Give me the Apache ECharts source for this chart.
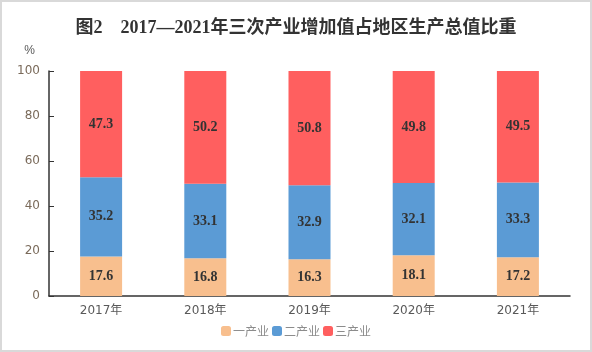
<!DOCTYPE html>
<html><head><meta charset="utf-8">
<script src="https://cdn.jsdelivr.net/npm/echarts@6/dist/echarts.min.js"></script>
<style>html,body{margin:0;padding:0;background:#fff}#c{width:592px;height:352px;box-sizing:border-box;border:2px solid #d9d9d9}</style>
</head><body><div id="c"></div>
<script>
const categories = ['2017年','2018年','2019年','2020年','2021年'];
const primary = [17.6, 16.8, 16.3, 18.1, 17.2];
const secondary = [35.2, 33.1, 32.9, 32.1, 33.3];
const tertiary = [47.3, 50.2, 50.8, 49.8, 49.5];
const seriesNames = ['一产业','二产业','三产业'];
const yTicks = [0,20,40,60,80,100];

const chart = echarts.init(document.getElementById('c'), null, {renderer:'canvas'});
const lbl = {show:true, position:'inside', color:'#333', fontFamily:'Liberation Serif, serif', fontWeight:'bold', fontSize:14};
const colors = ['#F8BF8E','#5B9BD5','#FF5F5F'];
const data = [primary, secondary, tertiary];
chart.setOption({
  animation:false,
  title:{text:'图2　2017—2021年三次产业增加值占地区生产总值比重', left:'center', top:12,
    textStyle:{fontSize:18, fontWeight:'bold', color:'#333', fontFamily:'Liberation Serif, Noto Sans CJK SC, serif'}},
  legend:{data:seriesNames, bottom:8, left:'center', itemWidth:10, itemHeight:10, itemGap:3,
    textStyle:{color:'#8c8c8c', fontSize:12, padding:[0,0,0,-3], fontFamily:'Noto Sans CJK SC'}},
  grid:{left:47, right:20, top:69, bottom:54},
  xAxis:{type:'category', data:categories,
    axisLine:{lineStyle:{color:'#333', width:1.5}},
    axisTick:{inside:true, length:5, lineStyle:{color:'#333'}},
    axisLabel:{color:'#595959', fontSize:12, margin:9, fontFamily:'DejaVu Sans, Noto Sans CJK SC'}},
  yAxis:{type:'value', min:0, max:100, interval:20, name:'%', nameLocation:'end', nameGap:14,
    nameTextStyle:{color:'#595959', fontSize:12, align:'right', padding:[0,14,0,0]},
    axisLine:{show:true, lineStyle:{color:'#333', width:1.5}},
    axisTick:{show:true, inside:true, length:5, lineStyle:{color:'#333'}},
    splitLine:{show:false},
    axisLabel:{color:'#7a6a5a', fontSize:12, margin:9, fontFamily:'DejaVu Sans',
      formatter:v=>yTicks.includes(v)?String(v):''}},
  series: seriesNames.map((n,i)=>({name:n, type:'bar', stack:'a', barWidth:42,
    itemStyle:{color:colors[i]}, label:lbl, data:data[i]}))
});
</script></body></html>
